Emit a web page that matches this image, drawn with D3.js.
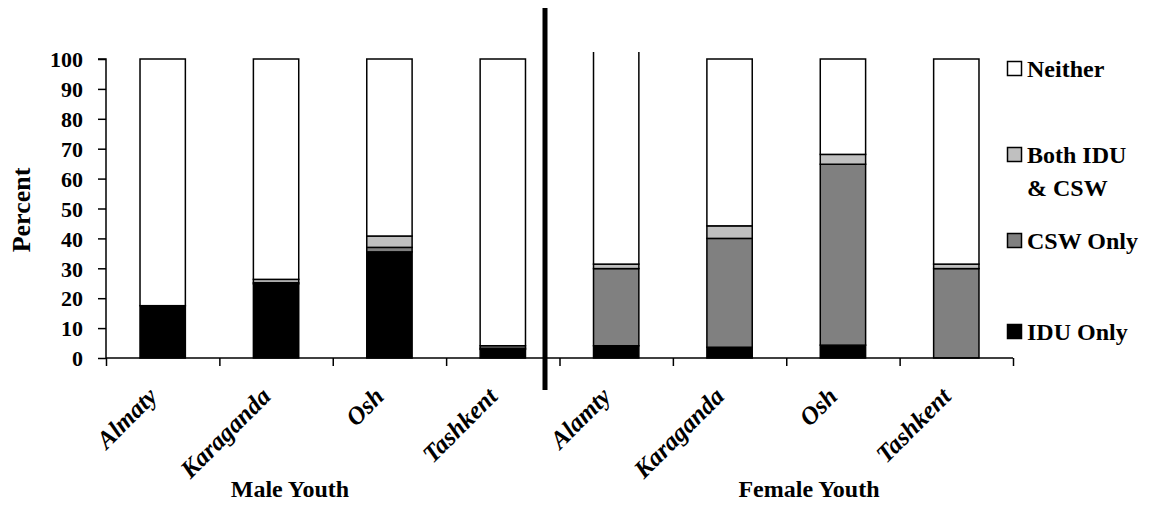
<!DOCTYPE html>
<html><head><meta charset="utf-8">
<script src="https://cdn.jsdelivr.net/npm/d3@7"></script>
<style>body{margin:0;background:#fff}svg{display:block}text{font-family:"Liberation Serif","Times New Roman",serif !important;font-weight:bold;fill:#000}</style>
</head><body>
<script>
const categories = ["Almaty","Karaganda","Osh","Tashkent","Alamty","Karaganda","Osh","Tashkent"];
const groups = ["Male Youth","Female Youth"];
const seriesNames = ["IDU Only","CSW Only","Both IDU & CSW","Neither"];
const iduOnly = [17.5, 24.8, 35.5, 2.9, 4.1, 3.6, 4.3, 0];
const cswOnly = [0, 0.4, 1.5, 0.4, 25.8, 36.4, 60.5, 29.9];
const bothIduCsw = [0, 1.1, 3.8, 0.8, 1.5, 4.2, 3.3, 1.5];
const neither = [82.5, 73.7, 59.2, 95.9, 72.0, 55.8, 31.9, 68.6];
const yTicks = [0,10,20,30,40,50,60,70,80,90,100];

const W = 1151, H = 508;
const colors = ["#000000","#808080","#c0c0c0","#ffffff"];
const svg = d3.select("body").append("svg").attr("width",W).attr("height",H);

const left = 106, right = 1013, y0 = 358, y100 = 59;
const y = d3.scaleLinear().domain([0,100]).range([y0,y100]);
const idx = d3.range(categories.length);
const x = d3.scaleBand().domain(idx).range([left,right]).paddingInner(0.6).paddingOuter(0.3);
const xb = d3.scaleLinear().domain([0,categories.length]).range([left,right]);

const rows = idx.map(i => ({i, v:[iduOnly[i],cswOnly[i],bothIduCsw[i],neither[i]]}));
const stack = d3.stack().keys([0,1,2,3]).value((d,k)=>d.v[k]);
const layers = stack(rows);

svg.append("defs").append("clipPath").attr("id","plot").append("rect")
  .attr("x",left).attr("y",52).attr("width",right-left).attr("height",y0-52+2);

const gBars = svg.append("g").attr("clip-path","url(#plot)");
layers.forEach((layer,k)=>{
  gBars.selectAll(null).data(layer).enter().append("rect")
    .attr("x",d=>x(d.data.i)).attr("width",x.bandwidth())
    .attr("y",d=>y(d[1])).attr("height",d=>Math.max(0,y(d[0])-y(d[1])))
    .attr("fill",colors[k]).attr("stroke","#000").attr("stroke-width",1.5)
    .attr("display",d=>(d[1]-d[0])>0?null:"none");
});

// Y axis
const yAxis = d3.axisLeft(y).tickValues(yTicks).tickSize(8).tickPadding(15);
const gy = svg.append("g").attr("transform",`translate(${left},0)`).call(yAxis);
gy.attr("font-family",null).attr("font-size",null);
gy.select(".domain").attr("stroke","#000").attr("stroke-width",1.5).attr("d",`M-8,${y100}H0V${y0}`);
gy.selectAll(".tick line").attr("stroke","#000").attr("stroke-width",1.5);
gy.selectAll(".tick text").style("font-size","22px").attr("dy","0.35em");

// X axis
const xAxis = d3.axisBottom(xb).ticks(categories.length).tickFormat("").tickSize(8);
const gx = svg.append("g").attr("transform",`translate(0,${y0})`).call(xAxis);
gx.select(".domain").attr("stroke","#000").attr("stroke-width",1.5).attr("d",`M${left},0H${right}`);
gx.selectAll(".tick line").attr("stroke","#000").attr("stroke-width",1.5);

// category labels
svg.selectAll(null).data(idx).enter().append("text")
  .attr("text-anchor","end")
  .attr("transform",d=>`translate(${x(d)+x.bandwidth()/2-4},${y0+40}) rotate(-45)`)
  .style("font-size","25px").style("font-style","italic")
  .text(d=>categories[d]);

// group labels
const groupX = [290, 809];
svg.selectAll(null).data(groups).enter().append("text")
  .attr("x",(d,i)=>groupX[i]).attr("y",497).attr("text-anchor","middle")
  .style("font-size","24px").text(d=>d);

// divider
svg.append("line").attr("x1",545).attr("x2",545).attr("y1",8).attr("y2",390)
  .attr("stroke","#000").attr("stroke-width",5);

// y title
svg.append("text").attr("transform","translate(30,210) rotate(-90)").attr("text-anchor","middle")
  .style("font-size","26px").text("Percent");

// legend
const legendItems = [
  {k:3, lines:["Neither"], y:77},
  {k:2, lines:["Both IDU","& CSW"], y:163},
  {k:1, lines:["CSW Only"], y:249},
  {k:0, lines:["IDU Only"], y:340}
];
const lg = svg.append("g");
legendItems.forEach(it=>{
  lg.append("rect").attr("x",1007.5).attr("y",it.y-15.5).attr("width",14).attr("height",14)
    .attr("fill",colors[it.k]).attr("stroke","#000").attr("stroke-width",1.5);
  const t = lg.append("text").attr("x",1027).attr("y",it.y).style("font-size","24px");
  it.lines.forEach((l,j)=>t.append("tspan").attr("x",1027).attr("dy",j?33:0).text(l));
});
</script>
</body></html>
